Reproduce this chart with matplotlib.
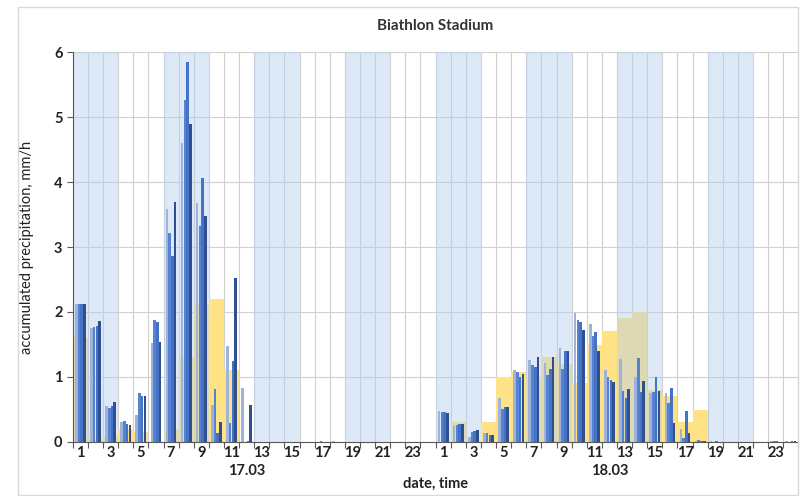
import numpy as np
import matplotlib
matplotlib.use('Agg')
import matplotlib.pyplot as plt
from matplotlib.patches import Rectangle

plt.rcParams['font.family'] = ['Lato', 'DejaVu Sans']

# hours of the two days (tick labels on odd hours)
hours = list(range(1, 25)) * 2
days = ['17.03', '18.03']

# 15-minute accumulated precipitation, mm/h (four quarters of each hour)
# 17.03 hours 1..24, then 18.03 hours 1..24
q1 = [2.12, 1.76, 0.55, 0.30, 0.42, 1.53, 3.58, 4.60, 3.68, 0.57, 1.48, 0.83,
      0, 0, 0, 0, 0, 0.01, 0, 0, 0, 0, 0, 0,
      0.48, 0.25, 0.08, 0.14, 0.67, 1.11, 1.26, 1.22, 1.44, 1.98, 1.82, 1.11,
      1.27, 1.00, 0.76, 0.76, 0.20, 0.02, 0.01, 0, 0, 0, 0.01, 0.01]
q2 = [2.12, 1.77, 0.52, 0.32, 0.76, 1.87, 3.22, 5.26, 3.33, 0.81, 0.29, 0,
      0, 0, 0, 0, 0.02, 0, 0, 0, 0, 0, 0, 0,
      0.46, 0.26, 0.15, 0.13, 0.50, 1.08, 1.18, 1.03, 1.13, 1.88, 1.63, 1.00,
      0.78, 1.29, 0.77, 0.60, 0.06, 0.03, 0, 0, 0.005, 0, 0.02, 0]
q3 = [2.12, 1.78, 0.55, 0.28, 0.70, 1.84, 2.86, 5.84, 4.06, 0.14, 1.25, 0.02,
      0, 0, 0, 0, 0, 0, 0, 0, 0, 0, 0, 0,
      0.46, 0.27, 0.17, 0.10, 0.54, 1.00, 1.16, 1.12, 1.40, 1.84, 1.69, 0.95,
      0.67, 0.77, 1.00, 0.83, 0.48, 0.02, 0.01, 0, 0, 0.005, 0.01, 0.02]
q4 = [2.12, 1.86, 0.61, 0.26, 0.71, 1.54, 3.70, 4.89, 3.48, 0.31, 2.52, 0.57,
      0, 0, 0, 0, 0, 0, 0, 0, 0, 0, 0, 0,
      0.44, 0.28, 0.19, 0.11, 0.54, 1.05, 1.31, 1.30, 1.40, 1.73, 1.40, 0.93,
      0.82, 0.94, 0.79, 0.29, 0.13, 0.01, 0, 0, 0, 0, 0, 0.01]

# hourly accumulated precipitation, mm/h
hourly = [1.6, 0.05, 0.08, 0.2, 0.15, 0.0, 0.2, 1.3, 2.1, 2.2, 1.1, 0,
          0, 0, 0, 0, 0, 0, 0, 0, 0, 0, 0, 0,
          0, 0.31, 0, 0.30, 1.0, 1.08, 1.0, 1.3, 1.2, 0.91, 1.49, 1.7,
          1.9, 2.0, 0.8, 0.70, 0.30, 0.49, 0, 0, 0, 0, 0, 0]

x = np.arange(len(hours))

fig = plt.figure(figsize=(8, 4.96), dpi=100)
ax = fig.add_axes([0.091, 0.109, 0.907, 0.786])

# frame of the chart area
fig.patches.append(Rectangle((0.022, 0.002), 0.976, 0.984, transform=fig.transFigure,
                             fill=False, edgecolor='#d9d9d9', lw=1))

# hourly bars (under the shading, so they turn khaki inside the bands)
ax.bar(x, hourly, width=1.0, color='#ffe286', zorder=1.5, lw=0)

# light blue bands: 3 hours shaded every 6 hours
for start in range(0, 48, 6):
    ax.axvspan(start - 0.5, start + 2.5, color='#b4cfee', alpha=0.45, zorder=2, lw=0)

# quarter-hour bars
cols = ['#9fb2d8', '#5583d2', '#4472c4', '#2f4f90']
offs = [-0.27, -0.09, 0.09, 0.27]
for q, c, o in zip([q1, q2, q3, q4], cols, offs):
    ax.bar(x + o, q, width=0.17, color=c, zorder=3, lw=0)

ax.set_xlim(-0.5, 47.5)
ax.set_ylim(0, 6)

ax.set_xticks(np.arange(-0.5, 48, 1))
ax.set_xticklabels([])
ax.set_xticks(x[::2], minor=True)
ax.set_xticklabels([str(h) for h in hours[::2]], minor=True, fontsize=10.5,
                   fontweight='bold', color='#222222')
ax.tick_params(axis='x', which='minor', length=0, pad=3)
ax.tick_params(axis='x', which='major', length=4, color='#595959', direction='out')
ax.set_yticks(range(0, 7))
ax.set_yticklabels([str(v) for v in range(0, 7)], fontsize=10.5, fontweight='bold',
                   color='#222222')
ax.tick_params(axis='y', length=4, color='#595959')

ax.grid(axis='both', which='major', color='#d0d0d0', lw=0.8, zorder=1)
ax.set_axisbelow(True)
for s in ['top', 'right']:
    ax.spines[s].set_visible(False)
ax.spines['left'].set_color('#595959')
ax.spines['bottom'].set_color('#595959')

ax.set_title('Biathlon Stadium', fontsize=11, fontweight='bold', color='#333333', pad=16)
ax.set_ylabel('accumulated precipitation, mm/h', fontsize=10.5, color='#222222', labelpad=14)

for i, d in enumerate(days):
    ax.text(11 + 24 * i, -0.45, d, ha='center', va='center', fontsize=10.5,
            fontweight='bold', color='#222222')
ax.text(23.5, -0.65, 'date, time', ha='center', va='center', fontsize=10.5,
        fontweight='bold', color='#222222')

fig.savefig('out.png', dpi=100)
